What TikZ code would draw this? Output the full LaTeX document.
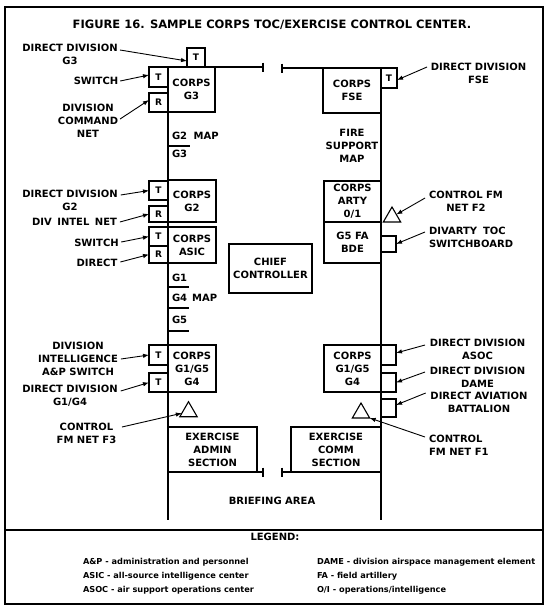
\documentclass[tikz,border=0pt]{standalone}
\usepackage{fontspec}
\setmainfont{DejaVu Sans}
\usetikzlibrary{arrows.meta,shapes.geometric}
\begin{document}
\begin{tikzpicture}[x=1pt,y=-1pt,
  every node/.style={inner sep=0pt,outer sep=0pt},
  lbl/.style={font=\bfseries\fontsize{10}{13}\selectfont,align=center},
  lbll/.style={font=\bfseries\fontsize{10}{13}\selectfont,align=left},
  ln/.style={line width=1.3pt},
  box/.style={draw,line width=1.3pt,font=\bfseries\fontsize{10}{13}\selectfont,align=center},
  sbox/.style={draw,line width=1.3pt,font=\bfseries\fontsize{9}{11}\selectfont},
  tri/.style={draw,line width=1.1pt,regular polygon,regular polygon sides=3,minimum size=20pt},
  arr/.style={line width=0.9pt,-{Latex[length=6pt,width=4.5pt]}},
  leg/.style={font=\bfseries\fontsize{8.2}{10}\selectfont,anchor=base west},
]
\useasboundingbox (0,0) rectangle (550,611);
\draw[line width=1.2pt] (5,7) rectangle (543,604);
\draw[line width=1.2pt] (5,530) -- (543,530);

\node[font=\bfseries\fontsize{11.5}{13}\selectfont] (title) at (272,25) {FIGURE 16. SAMPLE CORPS TOC/EXERCISE CONTROL CENTER.};

% ---- left column boxes
\node[box,minimum width=47,minimum height=45] (g3) at (191.5,89.5) {CORPS\\G3};
\node[sbox,minimum width=18,minimum height=19] (t3top) at (196,57.5) {T};
\node[sbox,minimum width=19,minimum height=20] (t3sw) at (158.5,77) {T};
\node[sbox,minimum width=19,minimum height=19] (r3) at (158.5,102.5) {R};

\node[box,minimum width=48,minimum height=42] (g2) at (192,201) {CORPS\\G2};
\node[sbox,minimum width=19,minimum height=19] (t2) at (158.5,190.5) {T};
\node[sbox,minimum width=19,minimum height=16] (r2) at (158.5,214) {R};
\node[box,minimum width=48,minimum height=36] (asic) at (192,245) {CORPS\\ASIC};
\node[sbox,minimum width=19,minimum height=19] (tas) at (158.5,236.5) {T};
\node[sbox,minimum width=19,minimum height=17] (ras) at (158.5,254.5) {R};

\node[box,minimum width=48,minimum height=47] (g1l) at (192,368.5) {CORPS\\G1/G5\\G4};
\node[sbox,minimum width=19,minimum height=20] (tl1) at (158.5,355) {T};
\node[sbox,minimum width=19,minimum height=19] (tl2) at (158.5,382.5) {T};
\node[tri] (trL) at (188.5,411.7) {};
\node[box,minimum width=89,minimum height=45] (admin) at (212.5,449.5) {EXERCISE\\ADMIN\\SECTION};

\node[box,minimum width=83,minimum height=49] (chief) at (270.5,268.5) {CHIEF\\CONTROLLER};

% ---- right column boxes
\node[box,minimum width=58,minimum height=45] (fse) at (352,90.5) {CORPS\\FSE};
\node[sbox,minimum width=16,minimum height=20] (tfse) at (389,78) {T};
\node[box,minimum width=57,minimum height=41] (arty) at (352.5,201.5) {CORPS\\ARTY\\0/1};
\node[box,minimum width=57,minimum height=41] (g5fa) at (352.5,242.5) {G5 FA\\BDE};
\node[tri] (trR1) at (392,217) {};
\node[sbox,minimum width=15,minimum height=16] (dvb) at (388.5,244) {};
\node[box,minimum width=57,minimum height=47] (g1r) at (352.5,368.5) {CORPS\\G1/G5\\G4};
\node[sbox,minimum width=15,minimum height=20] (b1) at (388.5,355) {};
\node[sbox,minimum width=15,minimum height=19] (b2) at (388.5,382.5) {};
\node[sbox,minimum width=15,minimum height=18] (b3) at (388.5,408) {};
\node[tri] (trR2) at (361,413) {};
\node[box,minimum width=90,minimum height=45] (comm) at (336,449.5) {EXERCISE\\COMM\\SECTION};

% ---- main lines
\coordinate (tkL) at (263,67);
\coordinate (tkR) at (282,68);
\coordinate (endL) at (168,520);
\coordinate (endR) at (381,520);
\coordinate (tkA) at (263,472);
\coordinate (tkC) at (282,472);
\draw[ln] (g3.north west) -- (tkL);
\draw[ln] ([yshift=4.5pt]tkL) -- ([yshift=-4.5pt]tkL);
\draw[ln] (g3.north west) -- (endL);
\draw[ln] (tkR) -- (tfse.north east);
\draw[ln] ([yshift=4.5pt]tkR) -- ([yshift=-4.5pt]tkR);
\draw[ln] (fse.north east) -- (endR);
\draw[ln] (admin.south west) -- (tkA);
\draw[ln] ([yshift=4.5pt]tkA) -- ([yshift=-4.5pt]tkA);
\draw[ln] (tkC) -- (comm.south east);
\draw[ln] ([yshift=4.5pt]tkC) -- ([yshift=-4.5pt]tkC);

% ---- map labels on the left line
\node[lbl,anchor=west] (m1) at (172,136) {G2\hspace{3pt} MAP};
\node[lbl,anchor=west] (m2) at (172,154) {G3};
\draw[ln] (168,146) -- (190,146);
\node[lbl,anchor=west] (m3) at (172,278) {G1};
\draw[ln] (168,287) -- (189,287);
\node[lbl,anchor=west] (m4) at (172,298) {G4\hspace{1.5pt} MAP};
\draw[ln] (168,308) -- (189,308);
\node[lbl,anchor=west] (m5) at (172,320) {G5};
\draw[ln] (168,331) -- (189,331);
\node[lbl,anchor=north] (fsm) at (352,129.4) {FIRE\\SUPPORT\\MAP};
\node[lbl] (brief) at (272,501) {BRIEFING AREA};

% ---- left labels and arrows
\node[lbl,anchor=north] (dd3) at (70,44.4) {DIRECT DIVISION\\G3};
\draw[arr] ([xshift=2.25pt,yshift=-5.6pt]dd3.north east) -- ([yshift=-3.5pt]t3top.west);
\node[lbl] (sw3) at (96,81) {SWITCH};
\draw[arr] ([xshift=2pt]sw3.east) -- ([yshift=2pt]t3sw.west);
\node[lbl,anchor=north] (dcn) at (88,104) {DIVISION\\COMMAND\\NET};
\draw[arr] ([xshift=2pt,yshift=-15pt]dcn.north east) -- ([yshift=2.5pt]r3.west);

\node[lbl,anchor=north] (dd2) at (70,190.4) {DIRECT DIVISION\\G2};
\draw[arr] ([xshift=3pt,yshift=-4.6pt]dd2.north east) -- (t2.west);
\node[lbl] (din) at (74.5,222) {DIV\hspace{2pt} INTEL\hspace{2pt} NET};
\draw[arr] ([xshift=3pt]din.east) -- (r2.west);
\node[lbl] (sw2) at (96.5,243) {SWITCH};
\draw[arr] ([xshift=2.5pt,yshift=1pt]sw2.east) -- (tas.west);
\node[lbl] (dir) at (97,263) {DIRECT};
\draw[arr] ([xshift=3pt,yshift=1pt]dir.east) -- (ras.west);

\node[lbl,anchor=north] (dia) at (78,342.4) {DIVISION\\INTELLIGENCE\\A\&P SWITCH};
\draw[arr] ([xshift=3pt,yshift=-16.6pt]dia.north east) -- (tl1.west);
\node[lbl,anchor=north] (dd14) at (70,385.4) {DIRECT DIVISION\\G1/G4};
\draw[arr] ([xshift=3pt,yshift=-5.6pt]dd14.north east) -- (tl2.west);
\node[lbl,anchor=north] (cf3) at (86.5,423.4) {CONTROL\\FM NET F3};
\draw[arr] ([xshift=5.7pt,yshift=-3.6pt]cf3.north east) -- (trL);

% ---- right labels and arrows
\node[lbl,anchor=north] (ddf) at (478.5,63.4) {DIRECT DIVISION\\FSE};
\draw[arr] ([xshift=-3.75pt,yshift=-3.6pt]ddf.north west) -- ([yshift=-2pt]tfse.east);
\node[lbl,anchor=north] (cf2) at (466,191.4) {CONTROL FM\\NET F2};
\draw[arr] ([xshift=-4pt,yshift=-6.6pt]cf2.north west) -- (trR1);
\node[lbll,anchor=north west] (dvt) at (429,227.4) {DIVARTY\hspace{2.5pt} TOC\\SWITCHBOARD};
\draw[arr] ([xshift=-4pt,yshift=-4.6pt]dvt.north west) -- (dvb.east);
\node[lbl,anchor=north] (asoc) at (477.5,339.4) {DIRECT DIVISION\\ASOC};
\draw[arr] ([xshift=-4.75pt,yshift=-5.6pt]asoc.north west) -- ([yshift=2pt]b1.east);
\node[lbl,anchor=north] (dame) at (477.5,367.4) {DIRECT DIVISION\\DAME};
\draw[arr] ([xshift=-4.75pt,yshift=-4.6pt]dame.north west) -- (b2.east);
\node[lbl,anchor=north] (avn) at (479,392.4) {DIRECT AVIATION\\BATTALION};
\draw[arr] ([xshift=-4.75pt,yshift=-0.6pt]avn.north west) -- ([yshift=3pt]b3.east);
\node[lbll,anchor=north west] (cf1) at (429,435.4) {CONTROL\\FM NET F1};
\draw[arr] ([xshift=-4pt,yshift=-1.6pt]cf1.north west) -- (trR2.corner 3);

% ---- legend
\node[font=\bfseries\fontsize{10}{12}\selectfont] (legt) at (275,537) {LEGEND:};
\node[leg] (l1) at (83,564) {A\&P - administration and personnel};
\node[leg] (l2) at (83,578) {ASIC - all-source intelligence center};
\node[leg] (l3) at (83,592) {ASOC - air support operations center};
\node[leg] (l4) at (317,564) {DAME - division airspace management element};
\node[leg] (l5) at (317,578) {FA - field artillery};
\node[leg] (l6) at (317,592) {O/I - operations/intelligence};
\end{tikzpicture}
\end{document}
